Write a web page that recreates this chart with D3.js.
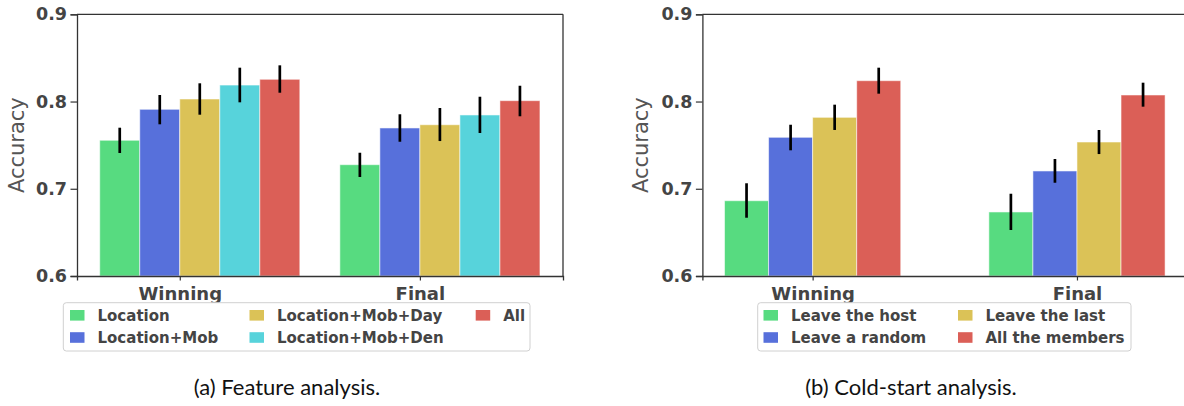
<!DOCTYPE html>
<html>
<head>
<meta charset="utf-8">
<script src="https://cdn.jsdelivr.net/npm/d3@7"></script>
<style>
  html,body{margin:0;padding:0;background:#fff;}
  svg{display:block;}
</style>
</head>
<body>
<svg id="chart" width="1184" height="406"></svg>
<script>
// ---------------- DATA ----------------
const categories = ["Winning", "Final"];
const yTicks = [0.6, 0.7, 0.8, 0.9];

// (a) Feature analysis
const featSeries = ["Location", "Location+Mob", "Location+Mob+Day", "Location+Mob+Den", "All"];
const featValues = [
  [0.7556, 0.7276],
  [0.7911, 0.7697],
  [0.8029, 0.7734],
  [0.8189, 0.7846],
  [0.8255, 0.8010]
];
const featLower = [
  [0.741, 0.7135],
  [0.7739, 0.7539],
  [0.7849, 0.7547],
  [0.7991, 0.7639],
  [0.8101, 0.7831]
];
const featUpper = [
  [0.770, 0.7413],
  [0.8075, 0.7854],
  [0.8209, 0.7926],
  [0.8388, 0.8055],
  [0.8415, 0.8181]
];

// (b) Cold-start analysis
const coldSeries = ["Leave the host", "Leave a random", "Leave the last", "All the members"];
const coldValues = [
  [0.6863, 0.6734],
  [0.7590, 0.7204],
  [0.7819, 0.7536],
  [0.8239, 0.8075]
];
const coldLower = [
  [0.6668, 0.6527],
  [0.7441, 0.7069],
  [0.7674, 0.7398],
  [0.8090, 0.7941]
];
const coldUpper = [
  [0.7063, 0.6943],
  [0.7734, 0.7341],
  [0.7964, 0.7674],
  [0.8388, 0.8216]
];

const featColors = ["#57db80", "#5770db", "#dbc257", "#57d3db", "#db5f57"];
const coldColors = ["#57db80", "#5770db", "#dbc257", "#db5f57"];
const captions = ["(a) Feature analysis.", "(b) Cold-start analysis."];

// ---------------- DRAW ----------------
const svg = d3.select("#chart");
const FONT = "'DejaVu Sans', sans-serif";
const TXT = "#444444";

function drawPanel(cfg) {
  const g = svg.append("g");
  const x = d3.scaleLinear().domain(cfg.xDomain).range([cfg.left, cfg.right]);
  const y = d3.scaleLinear().domain([0.6, 0.9]).range([cfg.bottom, cfg.top]);
  const bw = (x(1) - x(0)) / 6;

  // bars
  cfg.series.forEach((s, j) => {
    const sg = g.append("g");
    sg.selectAll("rect").data(categories.map((c, i) => ({i, v: cfg.values[j][i]})))
      .join("rect")
      .attr("x", d => x(d.i) + (j - 2) * bw)
      .attr("width", bw)
      .attr("y", d => y(d.v))
      .attr("height", d => y(0.6) - y(d.v))
      .attr("fill", cfg.colors[j])
      .attr("stroke", "rgba(255,255,255,0.55)")
      .attr("stroke-width", 1);
  });
  // error bars
  cfg.series.forEach((s, j) => {
    g.append("g").selectAll("line").data(categories.map((c, i) => ({i, lo: cfg.lower[j][i], hi: cfg.upper[j][i]})))
      .join("line")
      .attr("x1", d => x(d.i) + (j - 1.5) * bw)
      .attr("x2", d => x(d.i) + (j - 1.5) * bw)
      .attr("y1", d => y(d.lo))
      .attr("y2", d => y(d.hi))
      .attr("stroke", "#000")
      .attr("stroke-width", 2.7);
  });

  // frame
  const frame = g.append("g").attr("fill", "none").attr("stroke", "#333").attr("stroke-width", 1.3);
  frame.append("line").attr("x1", cfg.left).attr("x2", cfg.right).attr("y1", cfg.top).attr("y2", cfg.top);
  frame.append("line").attr("x1", cfg.right).attr("x2", cfg.right).attr("y1", cfg.top).attr("y2", cfg.bottom);

  // y axis
  const ya = g.append("g").attr("transform", `translate(${cfg.left},0)`)
    .call(d3.axisLeft(y).tickValues(yTicks).tickFormat(d3.format(".1f")).tickSize(6.5).tickPadding(3.5));
  ya.select(".domain").attr("stroke", "#333").attr("stroke-width", 1.3);
  ya.selectAll(".tick line").attr("stroke", "#333").attr("stroke-width", 1.2);
  ya.selectAll(".tick text").attr("fill", TXT).attr("font-family", FONT)
    .attr("font-weight", "bold").attr("font-size", 17.5);

  // x axis
  const xa = g.append("g").attr("transform", `translate(0,${cfg.bottom})`)
    .call(d3.axisBottom(x).tickValues([0, 1]).tickFormat(i => categories[i]).tickSize(4.5));
  xa.select(".domain").attr("stroke", "#333").attr("stroke-width", 1.3);
  xa.selectAll(".tick line").attr("stroke", "#333").attr("stroke-width", 1.2);
  xa.selectAll(".tick text").attr("fill", TXT).attr("font-family", FONT)
    .attr("font-weight", "bold").attr("font-size", 18).attr("y", 23.5).attr("dy", 0);

  // y label
  g.append("text")
    .attr("transform", `translate(${cfg.ylabelX},${(cfg.top + cfg.bottom) / 2}) rotate(-90)`)
    .attr("text-anchor", "middle")
    .attr("font-family", FONT).attr("font-size", 21).attr("fill", "#555")
    .text("Accuracy");

  // legend
  const L = cfg.legend;
  const lg = g.append("g");
  lg.append("rect").attr("x", L.x).attr("y", L.y).attr("width", L.w).attr("height", L.h)
    .attr("rx", 3).attr("fill", "#fff").attr("stroke", "#d0d0d0").attr("stroke-width", 1);
  cfg.series.forEach((s, j) => {
    const col = Math.floor(j / 2), row = j % 2;
    const cy = L.rowY[row];
    lg.append("rect").attr("x", L.colX[col]).attr("y", cy - 5.3).attr("width", 14.5).attr("height", 10.6)
      .attr("fill", cfg.colors[j]);
    lg.append("text").attr("x", L.colX[col] + 27.5).attr("y", cy + 5.5)
      .attr("font-family", FONT).attr("font-weight", "bold").attr("font-size", 15)
      .attr("fill", TXT).text(s);
  });

  // caption
  svg.append("text").attr("x", cfg.captionX).attr("y", 395)
    .attr("text-anchor", "middle").attr("font-family", "Lato, 'Open Sans', sans-serif")
    .attr("font-size", 22).attr("fill", "#111").text(cfg.caption);
}

drawPanel({
  left: 77, right: 563, top: 14.3, bottom: 276,
  xDomain: [-0.428, 1.596],
  series: featSeries, values: featValues, lower: featLower, upper: featUpper, colors: featColors,
  ylabelX: 23.5,
  legend: {x: 63.3, y: 302.7, w: 466.7, h: 48.3, rowY: [315.3, 337.5], colX: [70, 249.5, 475.7]},
  captionX: 287, caption: captions[0]
});

drawPanel({
  left: 702.4, right: 1187.2, top: 14.3, bottom: 276,
  xDomain: [-0.417, 1.417],
  series: coldSeries, values: coldValues, lower: coldLower, upper: coldUpper, colors: coldColors,
  ylabelX: 648,
  legend: {x: 757.7, y: 302.7, w: 373.3, h: 48.3, rowY: [315.3, 337.5], colX: [763.5, 958]},
  captionX: 911, caption: captions[1]
});
</script>
</body>
</html>
